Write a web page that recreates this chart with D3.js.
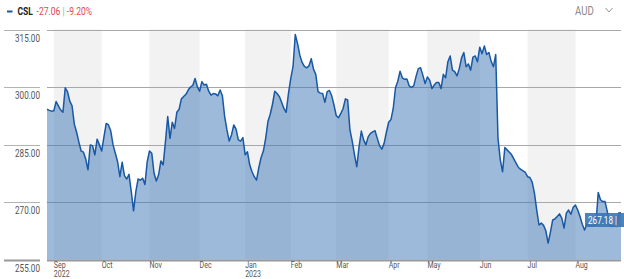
<!DOCTYPE html>
<html>
<head>
<meta charset="utf-8">
<script src="https://cdn.jsdelivr.net/npm/d3@7"></script>
<style>
  body { margin: 0; background: #fff; }
  svg { display: block; font-family: Roboto, "Noto Sans", sans-serif; }
</style>
</head>
<body>
<svg width="624" height="279"></svg>
<script>
// one value per ASX trading day, 29 Aug 2022 .. 29 Aug 2023
const closes = [
  294.2, 293.9, 293.7, 293.8, 296.2, 295.1, 294.0, 293.4, 299.8, 298.8,
  296.3, 295.1, 290.3, 288.2, 285.6, 283.3, 283.0, 281.2, 278.4, 284.9,
  284.7, 282.3, 286.4, 284.9, 283.3, 287.0, 290.5, 290.1, 288.5, 284.9,
  282.7, 280.5, 276.6, 280.4, 276.9, 276.0, 277.2, 272.7, 267.7, 272.7,
  276.0, 275.7, 276.2, 274.6, 280.5, 283.3, 282.7, 277.5, 275.5, 277.1,
  280.7, 279.7, 285.7, 292.3, 286.6, 290.8, 289.2, 293.4, 294.2, 296.9,
  297.5, 298.1, 299.2, 300.0, 300.4, 302.2, 300.1, 298.9, 301.4, 300.5,
  300.7, 298.9, 297.9, 298.3, 298.2, 297.7, 299.2, 297.7, 292.3, 288.8,
  285.9, 287.5, 290.1, 289.0, 286.2, 285.9, 286.8, 282.3, 283.1, 279.7,
  277.9, 276.6, 275.7, 279.0, 281.6, 283.3, 286.6, 291.0, 292.9, 295.5,
  298.9, 298.3, 297.5, 296.0, 294.4, 293.4, 298.3, 302.2, 305.3, 313.7,
  311.3, 308.3, 306.4, 305.4, 305.0, 305.5, 307.4, 304.7, 303.3, 298.8,
  298.4, 298.3, 296.0, 298.8, 299.1, 297.7, 295.3, 292.5, 292.0, 293.1,
  294.4, 296.9, 296.6, 288.8, 285.9, 282.3, 279.2, 284.4, 288.5, 286.2,
  284.9, 287.0, 287.9, 288.3, 288.6, 286.6, 284.7, 283.8, 285.3, 288.2,
  290.8, 291.5, 294.4, 299.8, 301.5, 304.1, 302.4, 302.0, 302.1, 300.3,
  299.9, 300.3, 302.7, 304.8, 305.0, 303.1, 300.9, 302.6, 301.8, 299.6,
  300.5, 301.2, 301.2, 299.6, 303.3, 302.4, 306.6, 308.1, 304.4, 304.0,
  302.9, 304.8, 307.6, 309.0, 305.3, 306.0, 304.4, 307.8, 308.1, 306.6,
  310.4, 308.7, 310.7, 308.5, 309.0, 306.7, 305.3, 308.5, 286.6, 281.0,
  277.9, 284.2, 283.6, 283.0, 282.3, 281.2, 280.1, 279.0, 278.5, 278.1,
  277.7, 276.6, 276.4, 275.2, 272.3, 267.9, 264.0, 264.5, 263.9, 262.5,
  259.3, 262.1, 265.3, 265.6, 266.2, 266.9, 265.8, 263.2, 267.1, 267.9,
  266.8, 268.6, 269.2, 267.9, 266.2, 264.2, 262.7, 264.2, 263.9, 263.9,
  263.9, 264.2, 272.5, 270.6, 270.1, 270.1, 267.5, 264.0, 263.6, 263.9,
  263.6, 267.1, 267.18
];

const monthNames = ["Sep", "Oct", "Nov", "Dec", "Jan", "Feb", "Mar", "Apr", "May", "Jun", "Jul", "Aug"];
const monthStart = [3, 24, 45, 67, 87, 107, 127, 150, 167, 190, 211, 232];
const yearNames = ["2022", "", "", "", "2023", "", "", "", "", "", "", ""];
const yTicks = [255, 270, 285, 300, 315];

const ticker = "CSL";
const change = "-27.06";
const changePct = "-9.20%";
const currency = "AUD";

const svg = d3.select("svg");
const plotL = 47, plotR = 621, plotT = 29.5, plotB = 259.5;
const lastIndex = closes.length - 1;

const x = d3.scaleLinear().domain([0, lastIndex]).range([plotL, plotR]);
const y = d3.scaleLinear().domain([255, 315]).range([plotB, plotT]);

// condensed-looking text helper
function label(g, px, py, txt, anchor, size, fill, weight) {
  return g.append("text")
    .attr("transform", `translate(${px},${py}) scale(0.74,1)`)
    .attr("text-anchor", anchor)
    .style("font-size", size + "px")
    .style("font-weight", weight || 400)
    .attr("fill", fill)
    .text(txt);
}

// alternating month bands
const bandEnds = monthStart.slice(1).concat([lastIndex + 0.5]);
svg.append("g").selectAll("rect")
  .data(monthStart.filter((d, i) => i % 2 === 0))
  .join("rect")
  .attr("x", d => x(d))
  .attr("y", plotT)
  .attr("width", d => x(bandEnds[monthStart.indexOf(d)]) - x(d))
  .attr("height", plotB - plotT)
  .attr("fill", "#f2f2f2");

// grid lines (under the area so they show through)
const grid = svg.append("g");
yTicks.forEach(t => {
  const yy = Math.round(y(t)) + 0.5;
  const isBase = t === 255;
  grid.append("line")
    .attr("x1", 4).attr("x2", 40)
    .attr("y1", yy).attr("y2", yy)
    .attr("stroke", isBase ? "#999" : "#b3b3b3")
    .attr("stroke-width", isBase ? 2 : 1);
  grid.append("line")
    .attr("x1", plotL).attr("x2", plotR)
    .attr("y1", yy).attr("y2", yy)
    .attr("stroke", isBase ? "#999" : "#a8a8a8")
    .attr("stroke-width", isBase ? 2 : 1);
  label(grid, 40, yy + 11, t.toFixed(2), "end", 11, "#555");
});

// area + line
const area = d3.area()
  .x((d, i) => x(i))
  .y0(plotB)
  .y1(d => y(d));
const line = d3.line()
  .x((d, i) => x(i))
  .y(d => y(d));

svg.append("path")
  .datum(closes)
  .attr("d", area)
  .attr("fill", "#3b76b6")
  .attr("fill-opacity", 0.5);

svg.append("path")
  .datum(closes)
  .attr("d", line)
  .attr("fill", "none")
  .attr("stroke", "#1858a4")
  .attr("stroke-width", 1.5)
  .attr("stroke-linejoin", "round");

// x axis month labels (month + optional year in one text block)
const xa = svg.append("g");
monthNames.forEach((m, i) => {
  const px = x(monthStart[i]);
  const t = label(xa, px, 268, "", "start", 9.5, "#555");
  t.append("tspan").attr("x", 0).text(m);
  if (yearNames[i]) t.append("tspan").attr("x", 0).attr("dy", 8.5).text(yearNames[i]);
});

// last value tag
const last = closes[lastIndex];
const tag = svg.append("g");
tag.append("rect")
  .attr("x", 585).attr("y", 213)
  .attr("width", 39).attr("height", 14)
  .attr("fill", "#3a74b2")
  .attr("fill-opacity", 0.9);
label(tag, 588, 224, last.toFixed(2) + " |", "start", 11, "#fff");

// header
const head = svg.append("g");
head.append("line")
  .attr("x1", 7).attr("x2", 12.5)
  .attr("y1", 11.5).attr("y2", 11.5)
  .attr("stroke", "#1858a4").attr("stroke-width", 2);
const ht = head.append("text")
  .attr("transform", "translate(17.5,15) scale(0.74,1)")
  .style("font-size", "11.5px");
ht.append("tspan").attr("fill", "#222").style("font-weight", 700).text(ticker);
ht.append("tspan").attr("fill", "#e2474d").attr("dx", 5).text(change);
ht.append("tspan").attr("fill", "#aaa").attr("dx", 3).text("|");
ht.append("tspan").attr("fill", "#e2474d").attr("dx", 3).text(changePct);

label(head, 575, 15, currency, "start", 13, "#888");
head.append("path")
  .attr("d", "M605.5,8 L609,12 L612.5,8")
  .attr("fill", "none")
  .attr("stroke", "#999")
  .attr("stroke-width", 1);
</script>
</body>
</html>
